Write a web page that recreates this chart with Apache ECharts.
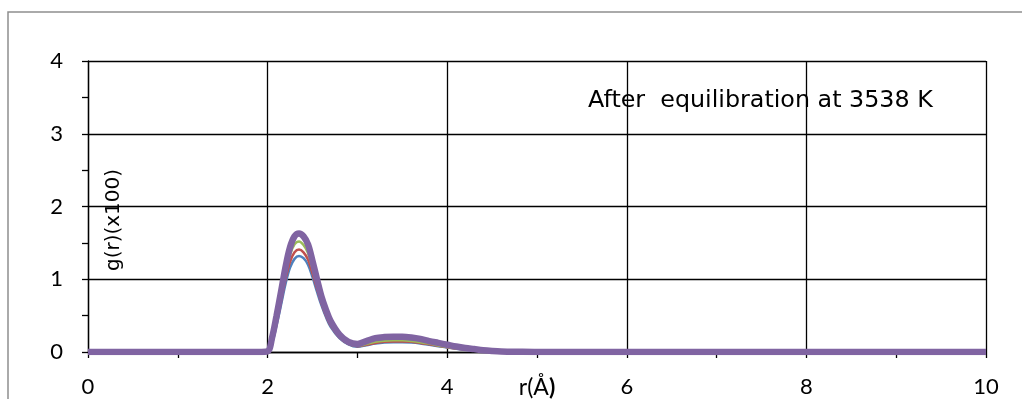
<!DOCTYPE html>
<html>
<head>
<meta charset="utf-8">
<title>g(r) after equilibration</title>
<script src="https://cdn.jsdelivr.net/npm/echarts@6/dist/echarts.min.js"></script>
<style>
  html, body { margin: 0; padding: 0; background: #fff; }
  #chart { width: 1022px; height: 399px; }
</style>
</head>
<body>
<div id="chart"></div>
<script>
// Radial distance r (Å)
var rValues = [0, 0.5, 1, 1.5, 1.9, 2.0, 2.05, 2.1, 2.15, 2.2, 2.25, 2.3, 2.35, 2.4, 2.45, 2.5, 2.55, 2.6, 2.65, 2.7,
  2.8, 2.9, 3.0, 3.1, 3.2, 3.3, 3.4, 3.5, 3.6, 3.7, 3.8, 3.9, 4.0, 4.1, 4.2, 4.3, 4.4, 4.5, 4.6, 4.8,
  5, 6, 7, 8, 9, 10];

// g(r) (x100) for the successive configurations
var gBlue = [0, 0, 0, 0, 0, 0.004, 0.12, 0.37, 0.65, 0.94, 1.16, 1.28, 1.32, 1.29, 1.2, 1.03, 0.83, 0.64, 0.48, 0.35,
  0.19, 0.105, 0.072, 0.092, 0.115, 0.13, 0.135, 0.135, 0.13, 0.118, 0.1, 0.08, 0.062, 0.045, 0.032, 0.022, 0.014, 0.008, 0.004, 0.002,
  0, 0, 0, 0, 0, 0];
var gRed = [0, 0, 0, 0, 0, 0.005, 0.14, 0.4, 0.7, 1.0, 1.24, 1.37, 1.41, 1.37, 1.27, 1.08, 0.87, 0.67, 0.5, 0.37,
  0.2, 0.11, 0.078, 0.1, 0.125, 0.14, 0.145, 0.145, 0.14, 0.125, 0.105, 0.085, 0.065, 0.048, 0.034, 0.023, 0.015, 0.009, 0.005, 0.002,
  0, 0, 0, 0, 0, 0];
var gGreen = [0, 0, 0, 0, 0, 0.005, 0.16, 0.44, 0.76, 1.08, 1.34, 1.48, 1.52, 1.47, 1.36, 1.15, 0.92, 0.7, 0.53, 0.39,
  0.21, 0.12, 0.085, 0.11, 0.14, 0.155, 0.16, 0.16, 0.15, 0.135, 0.115, 0.09, 0.07, 0.052, 0.038, 0.026, 0.016, 0.01, 0.005, 0.002,
  0, 0, 0, 0, 0, 0];
var gPurple = [0, 0, 0, 0, 0, 0.01, 0.2, 0.5, 0.83, 1.17, 1.44, 1.59, 1.63, 1.59, 1.48, 1.25, 1.0, 0.76, 0.58, 0.43,
  0.24, 0.14, 0.11, 0.15, 0.19, 0.205, 0.21, 0.21, 0.2, 0.18, 0.15, 0.125, 0.1, 0.075, 0.055, 0.04, 0.025, 0.015, 0.008, 0.003,
  0, 0, 0, 0, 0, 0];

var xTickLabels = ['0', '2', '4', '6', '8', '10'];
var yTickLabels = ['0', '1', '2', '3', '4'];

var TICK_FONT = 'Lato';
var NOTE_FONT = 'DejaVu Sans';

function pairs(values) {
  return rValues.map(function (r, i) { return [r, values[i]]; });
}

function lineSeries(name, values, color, width) {
  return {
    name: name,
    type: 'line',
    data: pairs(values),
    smooth: 0.35,
    showSymbol: false,
    symbol: 'none',
    lineStyle: { color: color, width: width },
    itemStyle: { color: color },
    silent: true
  };
}

var chart = echarts.init(document.getElementById('chart'), null, { renderer: 'canvas' });

chart.setOption({
  animation: false,
  backgroundColor: '#ffffff',
  textStyle: { fontFamily: TICK_FONT },
  grid: { left: 88, right: 36, top: 61, bottom: 47, containLabel: false, outerBoundsMode: 'none' },
  xAxis: {
    type: 'value',
    min: 0,
    max: 10,
    interval: 2,
    name: '{n|r(Å}{b|)}',
    nameLocation: 'middle',
    nameGap: 24,
    nameMoveOverlap: false,
    nameTextStyle: {
      verticalAlign: 'top',
      rich: {
        n: { fontFamily: TICK_FONT, fontSize: 23, color: '#000' },
        b: { fontFamily: TICK_FONT, fontSize: 23, fontWeight: 'bold', color: '#000' }
      }
    },
    axisLine: { show: true, lineStyle: { color: '#000', width: 1.3 } },
    axisTick: { show: true, inside: false, length: 6, lineStyle: { color: '#000', width: 1.3 } },
    minorTick: { show: true, splitNumber: 2, length: 6, lineStyle: { color: '#000', width: 1.3 } },
    axisLabel: {
      margin: 24,
      fontFamily: TICK_FONT,
      fontSize: 22,
      color: '#000',
      formatter: function (v) { return xTickLabels[Math.round(v / 2)]; }
    },
    splitLine: { show: true, lineStyle: { color: '#000', width: 1.3 } }
  },
  yAxis: {
    type: 'value',
    min: 0,
    max: 4,
    interval: 1,
    axisLine: { show: true, lineStyle: { color: '#000', width: 1.3 } },
    axisTick: { show: true, inside: false, length: 6, lineStyle: { color: '#000', width: 1.3 } },
    minorTick: { show: true, splitNumber: 2, length: 6, lineStyle: { color: '#000', width: 1.3 } },
    axisLabel: {
      margin: 25,
      fontFamily: TICK_FONT,
      fontSize: 22,
      color: '#000',
      formatter: function (v) { return yTickLabels[Math.round(v)]; }
    },
    splitLine: { show: true, lineStyle: { color: '#000', width: 1.3 } }
  },
  graphic: [
    {
      type: 'rect',
      silent: true,
      shape: { x: 8, y: 12, width: 1100, height: 500 },
      style: { fill: 'none', stroke: '#8e8e8e', lineWidth: 1.5 },
      z: -1
    },
    {
      type: 'text',
      silent: true,
      x: 588,
      y: 101,
      style: {
        text: 'After  equilibration at 3538 K',
        fontFamily: NOTE_FONT,
        fontSize: 23.8,
        fill: '#000',
        textAlign: 'left',
        textVerticalAlign: 'middle'
      },
      z: 10
    },
    {
      type: 'text',
      silent: true,
      x: 114,
      y: 220,
      rotation: Math.PI / 2,
      style: {
        text: 'g(r)(x100)',
        fontFamily: NOTE_FONT,
        fontSize: 20,
        fill: '#000',
        textAlign: 'center',
        textVerticalAlign: 'middle'
      },
      z: 10
    }
  ],
  series: [
    lineSeries('blue', gBlue, '#4F81BD', 2.5),
    lineSeries('red', gRed, '#C0504D', 2.5),
    lineSeries('green', gGreen, '#9BBB59', 2.5),
    lineSeries('purple', gPurple, '#8064A2', 6.5)
  ]
});
</script>
</body>
</html>
